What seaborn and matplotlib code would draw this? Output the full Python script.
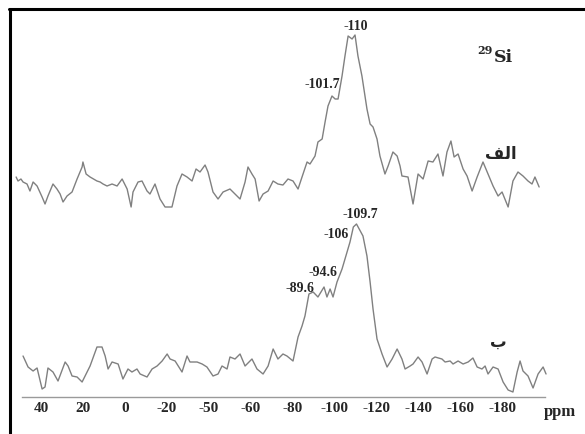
import numpy as np
import pandas as pd
import matplotlib
matplotlib.use("Agg")
import matplotlib.pyplot as plt
from matplotlib.lines import Line2D
import seaborn as sns

# ---------------- data ----------------
ppm_a = [52.0, 51.1, 49.7, 48.7, 46.8, 45.4, 43.9, 42.0, 39.6, 38.2, 36.8, 34.4, 32.5, 31.0, 29.6,
         27.7, 25.3, 22.9, 20.5, 20.1, 18.6, 16.7, 13.4, 11.9, 10.5, 8.6, 6.2, 3.8, 1.4, -1.0,
         -2.9, -3.8, -6.2, -8.1, -10.5, -11.9, -14.3, -16.7, -19.1, -22.4, -24.8, -27.2, -29.6,
         -32.0, -33.9, -35.8, -38.2, -39.6, -42.0, -44.4, -46.8, -50.1, -52.5, -54.9, -57.3,
         -58.7, -60.6, -62.1, -64.0, -65.9, -68.3, -70.7, -73.0, -75.4, -77.8, -80.2, -82.6,
         -84.5, -86.9, -88.3, -90.7, -92.1, -94.1, -95.5, -96.9, -98.8, -100.3, -101.7, -103.6,
         -105.0, -106.5, -108.4, -109.8, -111.2, -113.1, -115.5, -117.0, -118.4, -120.3, -121.7,
         -124.1, -125.6, -127.9, -129.9, -131.3, -132.2, -135.1, -137.5, -139.9, -142.3, -144.7,
         -147.0, -149.4, -151.8, -153.7, -155.6, -157.1, -159.0, -161.4, -163.3, -165.7, -168.1,
         -170.9, -173.3, -175.7, -178.1, -180.0, -182.9, -185.2, -187.6, -190.0, -192.4, -194.3,
         -195.7, -197.7]
int_a = [5, 1, 3, 0, -2, -9, 0, -4, -15, -22, -14, -2, -7, -12, -20,
         -14, -10, 3, 15, 20, 8, 5, 1, 0, -2, -4, -2, -4, 3, -7,
         -25, -10, 0, 1, -9, -12, -2, -17, -25, -25, -4, 8, 5,
         1, 13, 10, 17, 10, -10, -17, -10, -7, -12, -17, 0,
         15, 8, 3, -19, -12, -9, 1, -2, -3, 3, 1, -7,
         5, 20, 18, 26, 40, 43, 60, 76, 86, 83, 83, 106,
         126, 146, 143, 147, 126, 106, 73, 58, 55, 43, 26,
         8, 16, 30, 26, 16, 6, 5, -22, 8, 3, 21,
         20, 28, 6, 30, 41, 25, 28, 13, 6, -9, 5,
         20, 8, -4, -14, -10, -25, 1, 10, 6, 1, -2,
         5, -5]

ppm_b = [48.7, 46.3, 43.9, 42.0, 39.6, 38.2, 36.8, 34.4, 32.0, 28.6, 27.2, 25.3, 22.9, 20.5, 16.7,
         13.4, 11.0, 9.5, 8.1, 6.2, 3.3, 1.0, -1.4, -3.3, -5.7, -7.2, -10.5, -12.9, -15.3, -17.7,
         -20.1, -21.5, -23.9, -27.2, -29.6, -31.0, -34.4, -36.8, -39.1, -42.0, -44.4, -46.3,
         -48.7, -50.1, -52.5, -54.9, -57.3, -60.6, -63.0, -65.9, -68.3, -70.7, -73.0, -75.4,
         -77.3, -80.2, -82.6, -84.5, -85.9, -87.8, -89.8, -92.1, -95.0, -96.4, -97.9, -99.3,
         -101.2, -103.6, -106.0, -107.4, -109.0, -110.5, -113.6, -115.5, -117.0, -118.4, -120.3,
         -122.7, -125.1, -127.5, -129.9, -132.2, -133.7, -136.1, -137.5, -139.9, -141.8, -144.2,
         -146.6, -148.0, -151.3, -152.8, -155.2, -156.6, -159.0, -161.4, -163.8, -166.1, -168.1,
         -170.4, -171.9, -173.3, -175.7, -178.1, -180.5, -182.9, -185.2, -187.2, -188.6, -190.0,
         -192.4, -194.8, -197.2, -199.6, -201.0]
int_b = [8, -3, -7, -4, -25, -23, -4, -8, -17, 2, -2, -12, -13, -18, -2,
         17, 17, 8, -5, 2, 0, -15, -5, -8, -5, -10, -13, -5, -2, 3,
         10, 5, 3, -8, 8, 2, 2, 0, -3, -12, -10, -2,
         -5, 7, 5, 10, -2, 5, -5, -10, -2, 15, 5, 10,
         8, 3, 27, 38, 48, 70, 72, 67, 77, 67, 75, 67,
         82, 95, 112, 122, 137, 140, 128, 108, 82, 55, 25,
         10, -3, 5, 15, 5, -5, -2, 0, 7, 2, -10,
         5, 7, 5, 2, 3, 0, 3, 0, 2, 6, -3,
         -5, -2, -10, -3, -5, -18, -26, -28, -8, 3, -7,
         -12, -24, -10, -3, -10]

tick_pos = [40, 20, 0, -20, -40, -60, -80, -100, -120, -140, -160, -180]
tick_lab = ["40", "20", "0", "-20", "-50", "-60", "-80", "-100", "-120", "-140", "-160", "-180"]

peaks_a = ["-110", "-101.7"]
peaks_b = ["-109.7", "-106", "-94.6", "-89.6"]

# ---------------- figure ----------------
sns.set_style("white")
plt.rcParams['font.family'] = ['Liberation Serif', 'DejaVu Serif']

W, H = 585, 435
fig = plt.figure(figsize=(W / 100, H / 100), dpi=100)
ax = fig.add_axes([0, 37 / H, 1, 398 / H])
ax.set_xlim(59.7, -219.6)
ax.set_ylim(0, 398)

off_a, off_b = 215, 33
df_a = pd.DataFrame({"ppm": ppm_a, "y": np.array(int_a) + off_a})
df_b = pd.DataFrame({"ppm": ppm_b, "y": np.array(int_b) + off_b})
line_kw = dict(color="#808080", linewidth=1.0, sort=False, estimator=None, ax=ax)
sns.lineplot(data=df_a, x="ppm", y="y", **line_kw)
sns.lineplot(data=df_b, x="ppm", y="y", **line_kw)

for s in ["top", "left", "right"]:
    ax.spines[s].set_visible(False)
ax.spines["bottom"].set_bounds(49.2, -200.5)
ax.spines["bottom"].set_color("#9a9a9a")
ax.spines["bottom"].set_linewidth(1.0)
ax.spines["bottom"].set_linestyle((0, (2, 1)))
ax.set_yticks([])
ax.set_xticks(tick_pos, tick_lab)
ax.tick_params(axis="x", length=0, pad=3, labelsize=11)
for t in ax.get_xticklabels():
    t.set_fontweight("bold")
ax.set_xlabel("")
ax.set_ylabel("")
ax.text(-207.7, -14, "ppm", ha="center", va="center", fontsize=12,
        fontweight="bold", clip_on=False)

# peak labels
num_kw = dict(ha="center", va="center", fontsize=10, fontweight="bold")
ax.text(-110.0, 371, peaks_a[0], **num_kw)
ax.text(-94.1, 313, peaks_a[1], **num_kw)
ax.text(-112.2, 183, peaks_b[0], **num_kw)
ax.text(-100.7, 163, peaks_b[1], **num_kw)
ax.text(-94.5, 125, peaks_b[2], **num_kw)
ax.text(-83.5, 110, peaks_b[3], **num_kw)

# nucleus label
ax.text(-172.0, 348, "29", ha="center", va="center", fontsize=8,
        fontweight="bold", family=["DejaVu Serif"])
ax.text(-180.5, 341, "Si", ha="center", va="center", fontsize=12.5,
        fontweight="bold", family=["DejaVu Serif"])

# Arabic spectrum labels (presentation forms in visual order)
ax.text(-179.5, 244, "\ufed2\ufedf\ufe8d", ha="center", va="center", fontsize=12,
        fontweight="bold", family=["DejaVu Sans"])
ax.text(-178.1, 56, "\u0628", ha="center", va="center", fontsize=12,
        fontweight="bold", family=["DejaVu Sans"])

# page frame (top and left rules)
fig.add_artist(Line2D([9 / W, 1.0], [1 - 9.5 / H, 1 - 9.5 / H], color="black",
                      linewidth=2.2, transform=fig.transFigure))
fig.add_artist(Line2D([10 / W, 10 / W], [0, 1 - 9.5 / H], color="black",
                      linewidth=2.2, transform=fig.transFigure))

fig.savefig("out.png", dpi=100)
